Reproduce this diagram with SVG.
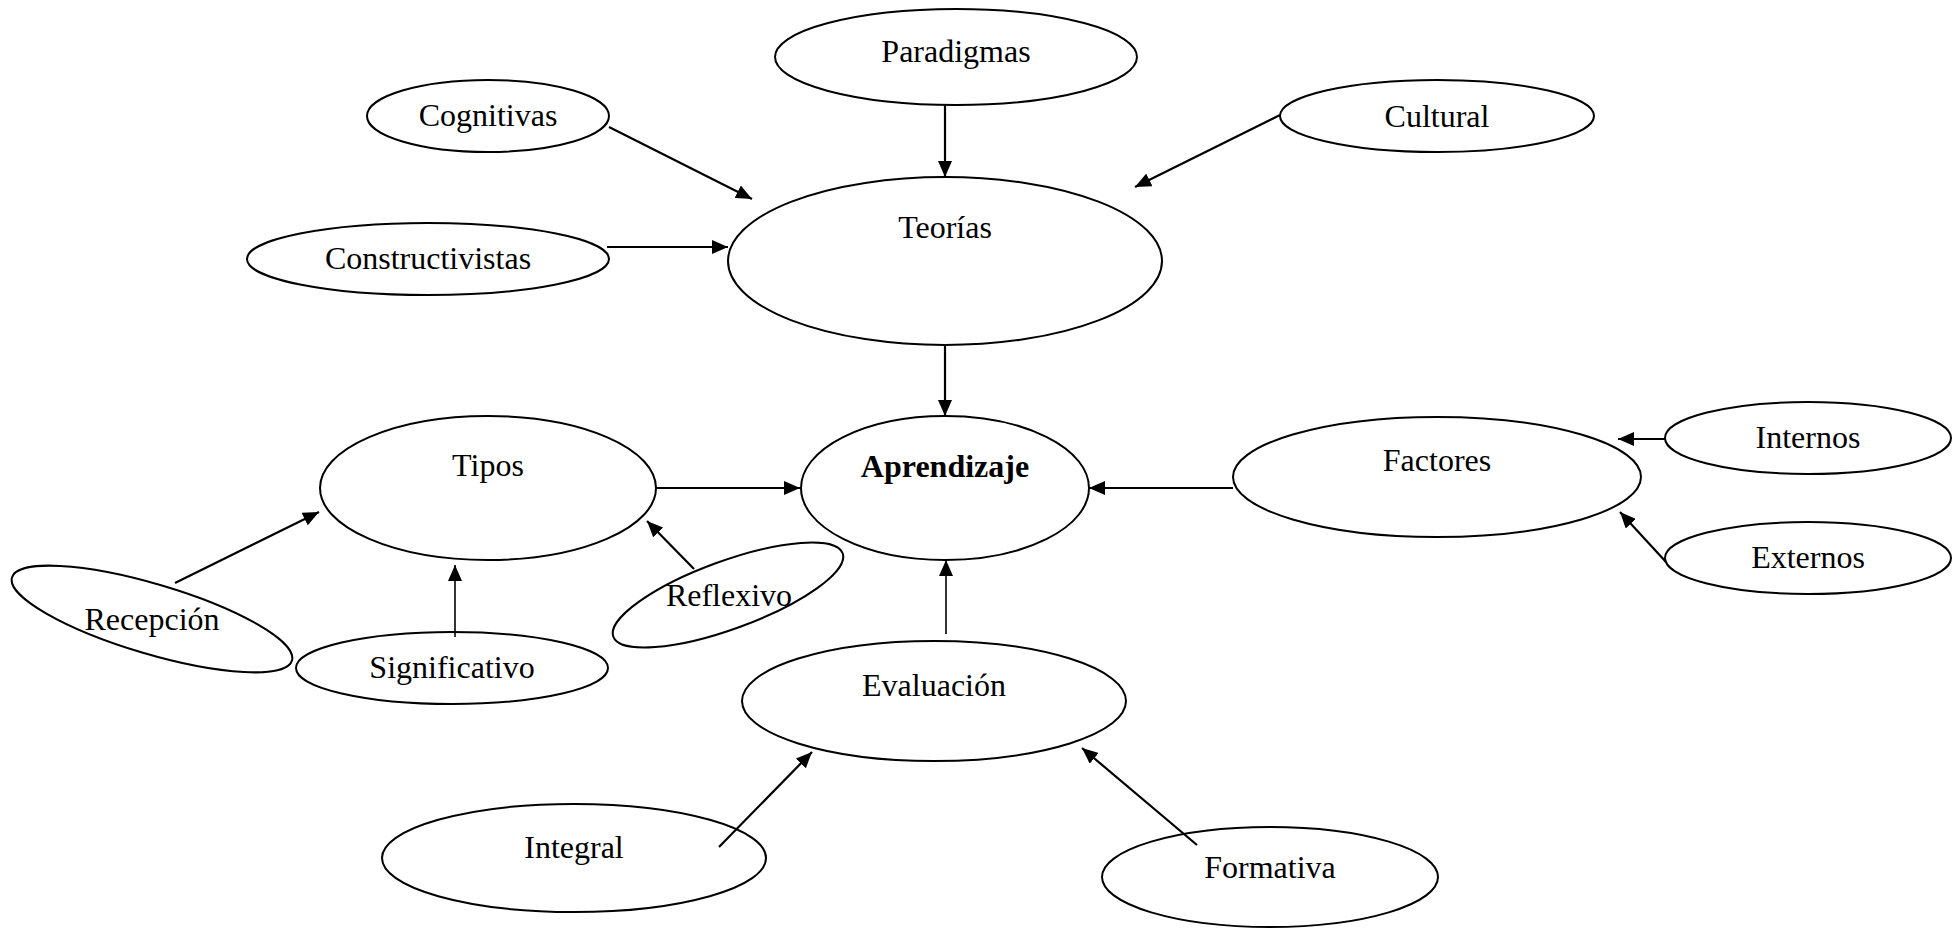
<svg xmlns="http://www.w3.org/2000/svg" width="1952" height="928" viewBox="0 0 1952 928">
<style>
.n ellipse{fill:#fff;stroke:#000;stroke-width:2}
.n text{font-family:"Liberation Serif","Times New Roman",serif;font-size:32px;fill:#000;text-anchor:middle}
.c line{stroke:#000;stroke-width:2.2}
</style>
<defs>
<marker id="ah" markerUnits="userSpaceOnUse" markerWidth="16" markerHeight="14" refX="16" refY="7" orient="auto">
<path d="M0,0 L16,7 L0,14 z" fill="#000"/>
</marker>
</defs>
<rect width="1952" height="928" fill="#fff"/>
<g class="n">
<g id="paradigmas"><ellipse cx="956" cy="57" rx="181" ry="48"/><text x="956" y="62">Paradigmas</text></g>
<g id="cognitivas"><ellipse cx="488" cy="116" rx="121" ry="36"/><text x="488" y="126">Cognitivas</text></g>
<g id="cultural"><ellipse cx="1437" cy="116" rx="157" ry="36"/><text x="1437" y="127">Cultural</text></g>
<g id="teorias"><ellipse cx="945" cy="261" rx="217" ry="84"/><text x="945" y="238">Teorías</text></g>
<g id="constructivistas"><ellipse cx="428" cy="259" rx="181" ry="36"/><text x="428" y="269">Constructivistas</text></g>
<g id="tipos"><ellipse cx="488" cy="488" rx="168" ry="72"/><text x="488" y="476">Tipos</text></g>
<g id="aprendizaje"><ellipse cx="945" cy="488" rx="144" ry="72"/><text x="945" y="477" font-weight="bold">Aprendizaje</text></g>
<g id="factores"><ellipse cx="1437" cy="477" rx="204" ry="60"/><text x="1437" y="471">Factores</text></g>
<g id="internos"><ellipse cx="1808" cy="438" rx="143" ry="36"/><text x="1808" y="448">Internos</text></g>
<g id="externos"><ellipse cx="1808" cy="558" rx="143" ry="36"/><text x="1808" y="568">Externos</text></g>
<g id="recepcion"><ellipse cx="152" cy="619" rx="146" ry="35" transform="rotate(16.5 152 619)"/><text x="152" y="630">Recepción</text></g>
<g id="significativo"><ellipse cx="452" cy="668" rx="156" ry="36"/><text x="452" y="678">Significativo</text></g>
<g id="reflexivo"><ellipse cx="728" cy="595" rx="122" ry="34" transform="rotate(-20 728 595)"/><text x="729" y="606">Reflexivo</text></g>
<g id="evaluacion"><ellipse cx="934" cy="701" rx="192" ry="60"/><text x="934" y="696">Evaluación</text></g>
<g id="integral"><ellipse cx="574" cy="858" rx="192" ry="54"/><text x="574" y="858">Integral</text></g>
<g id="formativa"><ellipse cx="1270" cy="877" rx="168" ry="50"/><text x="1270" y="878">Formativa</text></g>
</g>
<g class="c">
<line x1="945" y1="105" x2="945" y2="177" marker-end="url(#ah)"/>
<line x1="609" y1="127" x2="752" y2="199" marker-end="url(#ah)"/>
<line x1="1280" y1="115" x2="1135" y2="187" marker-end="url(#ah)"/>
<line x1="607" y1="247" x2="728" y2="247" marker-end="url(#ah)"/>
<line x1="945" y1="345" x2="945" y2="416" marker-end="url(#ah)"/>
<line x1="656" y1="488" x2="800" y2="488" marker-end="url(#ah)"/>
<line x1="1233" y1="488" x2="1089" y2="488" marker-end="url(#ah)"/>
<line x1="1665" y1="439" x2="1618" y2="439" marker-end="url(#ah)"/>
<line x1="1666" y1="562" x2="1620" y2="512" marker-end="url(#ah)"/>
<line x1="175" y1="583" x2="319" y2="512" marker-end="url(#ah)"/>
<line x1="455" y1="637" x2="455" y2="565" marker-end="url(#ah)" style="stroke-width:1.6"/>
<line x1="694" y1="569" x2="647" y2="521" marker-end="url(#ah)"/>
<line x1="946" y1="634" x2="946" y2="560" marker-end="url(#ah)" style="stroke-width:1.6"/>
<line x1="719" y1="847" x2="812" y2="752" marker-end="url(#ah)"/>
<line x1="1197" y1="845" x2="1082" y2="748" marker-end="url(#ah)"/>
</g>
</svg>
